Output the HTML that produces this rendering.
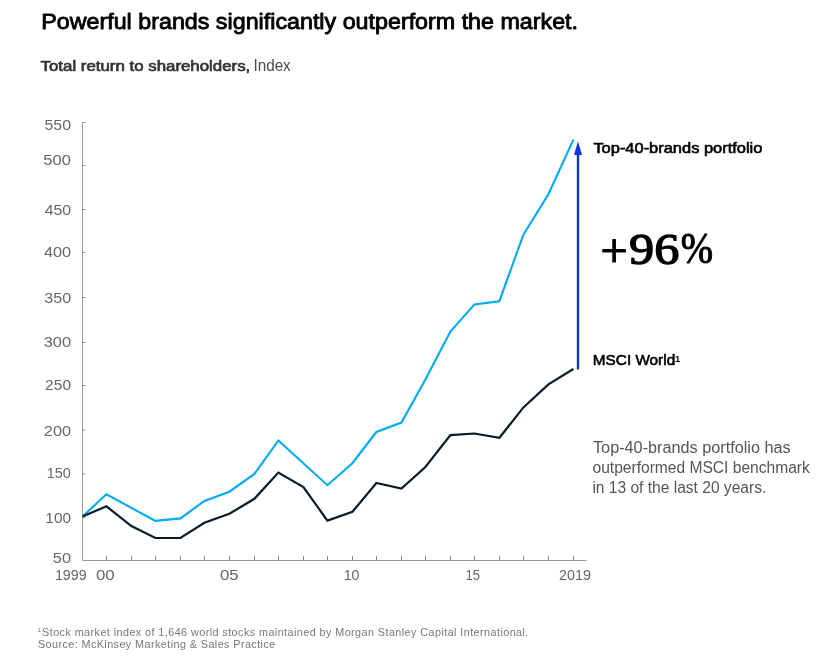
<!DOCTYPE html>
<html lang="en"><head><meta charset="utf-8"><title>Powerful brands significantly outperform the market</title>
<style>
html,body{margin:0;padding:0;background:#fff;}
body{width:819px;height:656px;overflow:hidden;}
svg{display:block;will-change:transform;}
</style></head>
<body>
<svg width="819" height="656" viewBox="0 0 819 656">
<rect width="819" height="656" fill="#fff"/>
<path d="M82.5 122 V560.5 H586.5" fill="none" stroke="#9a9a9a" stroke-width="1"/>
<path d="M83 122.5 H85.5" stroke="#9a9a9a" stroke-width="1"/>
<path d="M83 165.5 H85.5" stroke="#9a9a9a" stroke-width="1"/>
<path d="M83 209.5 H85.5" stroke="#9a9a9a" stroke-width="1"/>
<path d="M83 252.5 H85.5" stroke="#9a9a9a" stroke-width="1"/>
<path d="M83 297.5 H85.5" stroke="#9a9a9a" stroke-width="1"/>
<path d="M83 342.5 H85.5" stroke="#9a9a9a" stroke-width="1"/>
<path d="M83 385.5 H85.5" stroke="#9a9a9a" stroke-width="1"/>
<path d="M83 430.0 H85.5" stroke="#9a9a9a" stroke-width="1"/>
<path d="M83 474.0 H85.5" stroke="#9a9a9a" stroke-width="1"/>
<path d="M83 517.5 H85.5" stroke="#9a9a9a" stroke-width="1"/>
<path d="M106.5 556 V560" stroke="#8a8a8a" stroke-width="1"/>
<path d="M131.5 556 V560" stroke="#8a8a8a" stroke-width="1"/>
<path d="M155.5 556 V560" stroke="#8a8a8a" stroke-width="1"/>
<path d="M180.5 556 V560" stroke="#8a8a8a" stroke-width="1"/>
<path d="M204.5 556 V560" stroke="#8a8a8a" stroke-width="1"/>
<path d="M229.5 556 V560" stroke="#8a8a8a" stroke-width="1"/>
<path d="M254.5 556 V560" stroke="#8a8a8a" stroke-width="1"/>
<path d="M278.5 556 V560" stroke="#8a8a8a" stroke-width="1"/>
<path d="M303.5 556 V560" stroke="#8a8a8a" stroke-width="1"/>
<path d="M327.5 556 V560" stroke="#8a8a8a" stroke-width="1"/>
<path d="M352.5 556 V560" stroke="#8a8a8a" stroke-width="1"/>
<path d="M376.5 556 V560" stroke="#8a8a8a" stroke-width="1"/>
<path d="M401.5 556 V560" stroke="#8a8a8a" stroke-width="1"/>
<path d="M425.5 556 V560" stroke="#8a8a8a" stroke-width="1"/>
<path d="M450.5 556 V560" stroke="#8a8a8a" stroke-width="1"/>
<path d="M474.5 556 V560" stroke="#8a8a8a" stroke-width="1"/>
<path d="M499.5 556 V560" stroke="#8a8a8a" stroke-width="1"/>
<path d="M523.5 556 V560" stroke="#8a8a8a" stroke-width="1"/>
<path d="M548.5 556 V560" stroke="#8a8a8a" stroke-width="1"/>
<path d="M573.5 556 V560" stroke="#8a8a8a" stroke-width="1"/>
<polyline points="82.5,516.6 106.4,494.3 155.4,520.9 180.4,518.4 204.4,501.0 229.4,491.7 254.4,473.9 278.4,440.5 327.4,485.2 352.4,463.2 376.4,432.0 401.4,422.6 425.4,379.6 450.4,331.6 474.4,304.4 499.4,301.2 523.4,234.6 548.4,194.3 573.4,139.6" fill="none" stroke="#00a9f4" stroke-width="2.1" stroke-linejoin="miter"/>
<polyline points="82.5,516.6 106.4,506.3 131.4,526.0 155.4,538.0 180.4,538.0 204.4,522.7 229.4,513.8 254.4,498.8 278.4,472.6 303.4,487.0 327.4,520.6 352.4,511.8 376.4,483.0 401.4,488.6 425.4,467.0 450.4,435.1 474.4,433.5 499.4,437.8 523.4,407.4 548.4,384.4 573.4,369.0" fill="none" stroke="#051c2c" stroke-width="2.2" stroke-linejoin="miter"/>
<path d="M578 369.5 V152" stroke="#0a33de" stroke-width="2.4"/>
<path d="M578 141.3 L582 155 L574 155 Z" fill="#0a33de"/>
<text id="title" x="41.24" y="29.30" font-family="'Liberation Sans', Arial, sans-serif" font-size="21.8" font-weight="400" fill="#000" stroke="#000" stroke-width="0.85" stroke-linejoin="round" textLength="536.82" lengthAdjust="spacingAndGlyphs">Powerful brands significantly outperform the market.</text>
<text id="subb" x="40.58" y="70.60" font-family="'Liberation Sans', Arial, sans-serif" font-size="15.3" font-weight="400" fill="#333" stroke="#333" stroke-width="0.7" stroke-linejoin="round" textLength="209.70" lengthAdjust="spacingAndGlyphs">Total return to shareholders,</text>
<text id="subr" x="253.43" y="70.60" font-family="'Liberation Sans', Arial, sans-serif" font-size="15.8" font-weight="400" fill="#4a4a4a" textLength="37.34" lengthAdjust="spacingAndGlyphs">Index</text>
<text id="top40" x="593.42" y="153.10" font-family="'Liberation Sans', Arial, sans-serif" font-size="15.0" font-weight="400" fill="#000" stroke="#000" stroke-width="0.6" stroke-linejoin="round" textLength="168.97" lengthAdjust="spacingAndGlyphs">Top-40-brands portfolio</text>
<text id="pplus" x="600.59" y="267.44" font-family="'Liberation Serif', 'Times New Roman', serif" font-size="47.52" font-weight="400" fill="#000" stroke="#000" stroke-width="1.2" stroke-linejoin="round" textLength="27.22" lengthAdjust="spacingAndGlyphs">+</text>
<text id="p96" x="629.02" y="263.85" font-family="'Liberation Serif', 'Times New Roman', serif" font-size="44.98" font-weight="400" fill="#000" stroke="#000" stroke-width="1.3" stroke-linejoin="round" textLength="50.28" lengthAdjust="spacingAndGlyphs">96</text>
<text id="ppct" x="680.83" y="263.21" font-family="'Liberation Serif', 'Times New Roman', serif" font-size="43.46" font-weight="400" fill="#000" stroke="#000" stroke-width="1.1" stroke-linejoin="round" textLength="32.29" lengthAdjust="spacingAndGlyphs">%</text>
<text id="msci" x="592.83" y="365.30" font-family="'Liberation Sans', Arial, sans-serif" font-size="15.2" font-weight="400" fill="#000" stroke="#000" stroke-width="0.6" stroke-linejoin="round" textLength="82.33" lengthAdjust="spacingAndGlyphs">MSCI World</text>
<text id="msup" x="675.08" y="361.70" font-family="'Liberation Sans', Arial, sans-serif" font-size="9.4" font-weight="700" fill="#000">1</text>
<text id="p1" x="593.00" y="452.80" font-family="'Liberation Sans', Arial, sans-serif" font-size="16" font-weight="400" fill="#555" textLength="197.65" lengthAdjust="spacingAndGlyphs">Top-40-brands portfolio has</text>
<text id="p2" x="592.48" y="473.20" font-family="'Liberation Sans', Arial, sans-serif" font-size="16" font-weight="400" fill="#555" textLength="217.36" lengthAdjust="spacingAndGlyphs">outperformed MSCI benchmark</text>
<text id="p3" x="592.41" y="492.70" font-family="'Liberation Sans', Arial, sans-serif" font-size="16" font-weight="400" fill="#555" textLength="173.84" lengthAdjust="spacingAndGlyphs">in 13 of the last 20 years.</text>
<text id="fsup" x="37.50" y="631.90" font-family="'Liberation Sans', Arial, sans-serif" font-size="6.2" font-weight="400" fill="#777">1</text>
<text id="fn1" x="42.10" y="635.80" font-family="'Liberation Sans', Arial, sans-serif" font-size="10.8" font-weight="400" fill="#777" textLength="486.27" lengthAdjust="spacing">Stock market index of 1,646 world stocks maintained by Morgan Stanley Capital International.</text>
<text id="fn2" x="37.91" y="647.80" font-family="'Liberation Sans', Arial, sans-serif" font-size="10.8" font-weight="400" fill="#777" textLength="237.36" lengthAdjust="spacing">Source: McKinsey Marketing &amp; Sales Practice</text>
<text id="y550" x="44.52" y="129.60" font-family="'Liberation Sans', Arial, sans-serif" font-size="14.8" font-weight="400" fill="#666" textLength="26.47" lengthAdjust="spacingAndGlyphs">550</text>
<text id="y500" x="43.27" y="164.90" font-family="'Liberation Sans', Arial, sans-serif" font-size="14.8" font-weight="400" fill="#666" textLength="27.75" lengthAdjust="spacingAndGlyphs">500</text>
<text id="y450" x="44.65" y="214.60" font-family="'Liberation Sans', Arial, sans-serif" font-size="14.8" font-weight="400" fill="#666" textLength="26.37" lengthAdjust="spacingAndGlyphs">450</text>
<text id="y400" x="44.00" y="257.10" font-family="'Liberation Sans', Arial, sans-serif" font-size="14.8" font-weight="400" fill="#666" textLength="27.20" lengthAdjust="spacingAndGlyphs">400</text>
<text id="y350" x="44.33" y="303.20" font-family="'Liberation Sans', Arial, sans-serif" font-size="14.8" font-weight="400" fill="#666" textLength="26.82" lengthAdjust="spacingAndGlyphs">350</text>
<text id="y300" x="43.73" y="347.20" font-family="'Liberation Sans', Arial, sans-serif" font-size="14.8" font-weight="400" fill="#666" textLength="27.37" lengthAdjust="spacingAndGlyphs">300</text>
<text id="y250" x="45.14" y="390.00" font-family="'Liberation Sans', Arial, sans-serif" font-size="14.8" font-weight="400" fill="#666" textLength="25.93" lengthAdjust="spacingAndGlyphs">250</text>
<text id="y200" x="43.87" y="436.10" font-family="'Liberation Sans', Arial, sans-serif" font-size="14.8" font-weight="400" fill="#666" textLength="27.16" lengthAdjust="spacingAndGlyphs">200</text>
<text id="y150" x="46.79" y="477.80" font-family="'Liberation Sans', Arial, sans-serif" font-size="14.8" font-weight="400" fill="#666" textLength="24.15" lengthAdjust="spacingAndGlyphs">150</text>
<text id="y100" x="45.37" y="522.80" font-family="'Liberation Sans', Arial, sans-serif" font-size="14.8" font-weight="400" fill="#666" textLength="25.69" lengthAdjust="spacingAndGlyphs">100</text>
<text id="y50" x="52.80" y="563.40" font-family="'Liberation Sans', Arial, sans-serif" font-size="14.8" font-weight="400" fill="#666" textLength="18.22" lengthAdjust="spacingAndGlyphs">50</text>
<text id="x1999" x="54.88" y="580.10" font-family="'Liberation Sans', Arial, sans-serif" font-size="14.8" font-weight="400" fill="#666" textLength="31.94" lengthAdjust="spacingAndGlyphs">1999</text>
<text id="x00" x="96.00" y="580.10" font-family="'Liberation Sans', Arial, sans-serif" font-size="14.8" font-weight="400" fill="#666" textLength="18.76" lengthAdjust="spacingAndGlyphs">00</text>
<text id="x05" x="219.98" y="580.10" font-family="'Liberation Sans', Arial, sans-serif" font-size="14.8" font-weight="400" fill="#666" textLength="18.69" lengthAdjust="spacingAndGlyphs">05</text>
<text id="x10" x="343.64" y="580.10" font-family="'Liberation Sans', Arial, sans-serif" font-size="14.8" font-weight="400" fill="#666" textLength="15.75" lengthAdjust="spacingAndGlyphs">10</text>
<text id="x15" x="465.55" y="580.10" font-family="'Liberation Sans', Arial, sans-serif" font-size="14.8" font-weight="400" fill="#666" textLength="14.53" lengthAdjust="spacingAndGlyphs">15</text>
<text id="x2019" x="559.04" y="580.10" font-family="'Liberation Sans', Arial, sans-serif" font-size="14.8" font-weight="400" fill="#666" textLength="32.07" lengthAdjust="spacingAndGlyphs">2019</text>
</svg>
</body></html>
